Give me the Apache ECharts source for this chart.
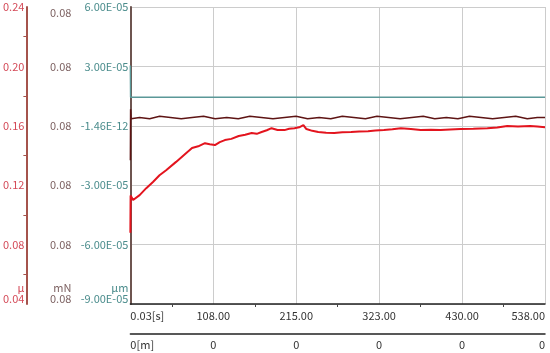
<!DOCTYPE html>
<html>
<head>
<meta charset="utf-8">
<style>
  html, body { margin: 0; padding: 0; background: #fff; }
  #chart { width: 550px; height: 353px; }
</style>
<script src="https://cdn.jsdelivr.net/npm/echarts@6/dist/echarts.min.js"></script>
</head>
<body>
<div id="chart"></div>
<script>
// tick labels as printed on the instrument
const timeLabels = ['0.03[s]', '108.00', '215.00', '323.00', '430.00', '538.00'];
const distLabels = ['0[m]', '0', '0', '0', '0', '0'];
const umLabels = ['-9.00E-05', '-6.00E-05', '-3.00E-05', '-1.46E-12', '3.00E-05', '6.00E-05'];
const mnLabels = ['0.08', '0.08', '0.08', '0.08', '0.08', '0.08'];
const muLabels = ['0.04', '0.08', '0.12', '0.16', '0.20', '0.24'];

// friction coefficient (μ)
const muTime = [0, 0.3, 3.5, 12, 20.6, 29.3, 37.8, 46.4, 59.3, 70, 80, 88, 96.8, 103, 109.7, 116, 122.6, 131, 140.6, 149,
  157.4, 164, 170.3, 177, 183.2, 191, 200, 206, 212.9, 219, 224.5, 228.4, 236, 243.8, 254, 264.5, 275, 286.4, 297, 308.4,
  318, 329, 340, 351, 364, 376.7, 390, 402.5, 415, 428.3, 445, 463.2, 476, 489, 503, 518.7, 528, 538];
const muValues = [0.088, 0.113, 0.110, 0.1133, 0.118, 0.1222, 0.1267, 0.1301, 0.1357, 0.1405, 0.1450, 0.1462, 0.1483, 0.1476, 0.1470, 0.1490, 0.1504, 0.1512, 0.1531, 0.1540,
  0.1551, 0.1546, 0.1558, 0.1570, 0.1584, 0.1572, 0.1571, 0.1580, 0.1584, 0.1590, 0.1605, 0.1578, 0.1566, 0.1558, 0.1553, 0.1551, 0.1556, 0.1558, 0.1562, 0.1564,
  0.1568, 0.1571, 0.1576, 0.1584, 0.1578, 0.1571, 0.1573, 0.1571, 0.1575, 0.1578, 0.1580, 0.1584, 0.1588, 0.1598, 0.1596, 0.1598, 0.1595, 0.1591];

// load (mN)
const loadTime = [0, 0.3, 1, 12, 25, 38, 52, 66, 80, 95, 110, 125, 140, 155, 170, 185, 200, 215, 230, 245, 260, 275, 290, 305, 320,
  335, 350, 365, 380, 395, 410, 425, 440, 455, 470, 485, 500, 515, 528, 538];
const loadValues = [0.08021, 0.08064, 0.08056, 0.08057, 0.08056, 0.08058, 0.08057, 0.08056, 0.08057, 0.08058, 0.08056, 0.08057, 0.08056, 0.08058, 0.08057, 0.08056,
  0.08057, 0.08058, 0.08056, 0.08057, 0.08056, 0.08058, 0.08057, 0.08056, 0.08058, 0.08057, 0.08056, 0.08057, 0.08058, 0.08056, 0.08057, 0.08056, 0.08058,
  0.08057, 0.08056, 0.08057, 0.08058, 0.08056, 0.08057, 0.08057];

// depth (μm)
const depthTime = [0, 0.3, 100, 200, 300, 400, 538];
const depthValues = [3.05e-5, 1.44e-5, 1.44e-5, 1.44e-5, 1.44e-5, 1.44e-5, 1.44e-5];

const chart = echarts.init(document.getElementById('chart'));
const font = '"Noto Sans CJK JP", "Noto Sans", sans-serif';

function pairs(xs, ys) {
    return xs.map((x, i) => [x, ys[i]]);
}

function yAxisFor(labels, min, step, color, unit, lineColor, offset, extra) {
    return Object.assign({
        type: 'value',
        position: 'left',
        offset: offset,
        min: min,
        max: min + step * 5,
        interval: step,
        axisLine: { show: true, lineStyle: { color: lineColor, width: 2 } },
        axisTick: { show: false },
        splitLine: { show: false },
        axisLabel: {
            color: color,
            fontSize: 11,
            fontFamily: font,
            margin: 2,
            verticalAlignMinLabel: 'bottom',
            verticalAlignMaxLabel: 'top',
            lineHeight: 11,
            formatter: (v) => {
                const i = Math.round((v - min) / step);
                return i === 0 ? unit + '\n' + labels[0] : labels[i];
            }
        }
    }, extra || {});
}

const option = {
    animation: false,
    grid: { left: 127, right: 5, top: 7, bottom: 49 },
    xAxis: [
        {
            type: 'value', min: 0, max: 538, interval: 107.6,
            axisLine: { show: true, onZero: false, lineStyle: { color: '#222', width: 1.5 } },
            axisTick: { show: false },
            minorTick: { show: true, splitNumber: 2, length: 3, lineStyle: { color: '#444' } },
            splitLine: { show: true, lineStyle: { color: '#ccc' } },
            axisLabel: {
                color: '#333', fontSize: 11, fontFamily: font, margin: 6,
                alignMinLabel: 'left', alignMaxLabel: 'right',
                formatter: (v) => timeLabels[Math.round(v / 107.6)]
            }
        },
        {
            type: 'value', min: 0, max: 538, interval: 107.6, position: 'bottom', offset: 30,
            axisLine: { show: true, onZero: false, lineStyle: { color: '#222', width: 1.5 } },
            axisTick: { show: false },
            splitLine: { show: false },
            axisLabel: {
                color: '#333', fontSize: 11, fontFamily: font, margin: 5,
                alignMinLabel: 'left', alignMaxLabel: 'right',
                formatter: (v) => distLabels[Math.round(v / 107.6)]
            }
        }
    ],
    yAxis: [
        yAxisFor(umLabels, -9e-5, 3e-5, '#4a8c8c', 'μm', '#8aa', 0,
            { splitLine: { show: true, lineStyle: { color: '#ccc' } }, axisLine: { show: true, lineStyle: { color: '#9aa', width: 1 } } }),
        yAxisFor(mnLabels, 0.079, 0.0005, '#7d6262', 'mN', '#6e5550', 57),
        yAxisFor(muLabels, 0.04, 0.04, '#d44a58', 'μ', '#a5534c', 104,
            { minorTick: { show: true, splitNumber: 2, length: 3, lineStyle: { color: '#a5534c' } } })
    ],
    series: [
        {
            name: 'depth', type: 'line', xAxisIndex: 0, yAxisIndex: 0,
            data: pairs(depthTime, depthValues),
            showSymbol: false,
            lineStyle: { color: '#5a9898', width: 1.5 }
        },
        {
            name: 'load', type: 'line', xAxisIndex: 0, yAxisIndex: 1,
            data: pairs(loadTime, loadValues),
            showSymbol: false,
            lineStyle: { color: '#5e1414', width: 1.5 }
        },
        {
            name: 'mu', type: 'line', xAxisIndex: 0, yAxisIndex: 2,
            data: pairs(muTime, muValues),
            showSymbol: false,
            lineStyle: { color: '#e3141e', width: 2 }
        }
    ]
};

chart.setOption(option);
</script>
</body>
</html>
